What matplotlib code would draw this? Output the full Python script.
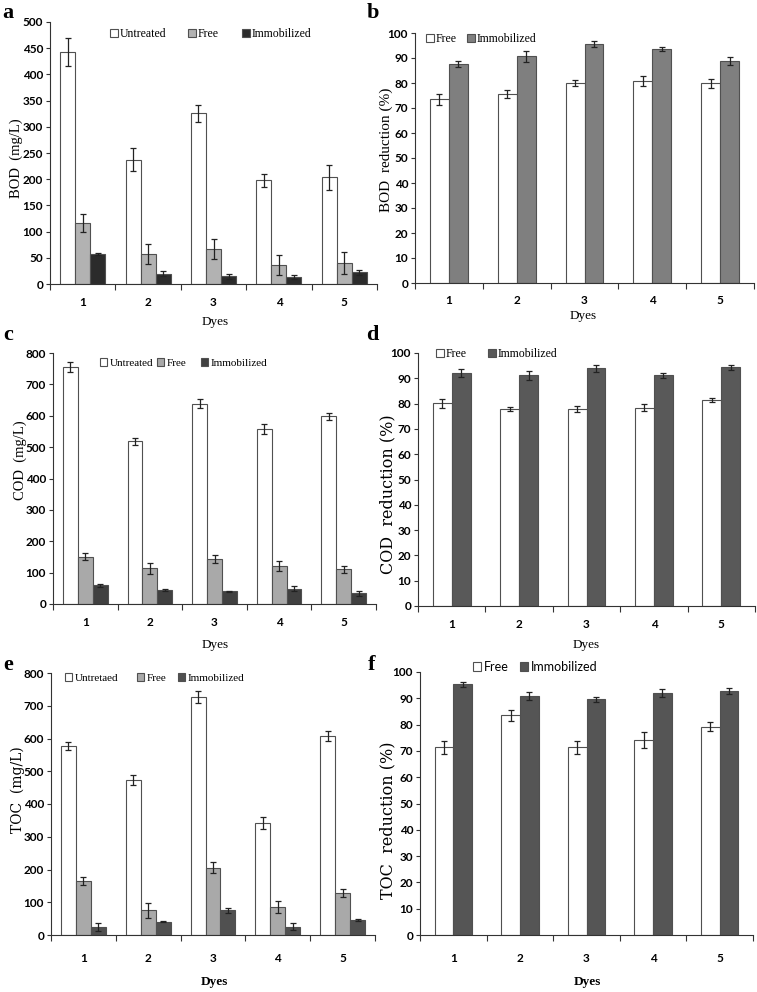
import numpy as np
import matplotlib
matplotlib.use('Agg')
import matplotlib.pyplot as plt

dyes = ['1', '2', '3', '4', '5']

# (a) BOD mg/L
bod_untreated = [443, 237, 326, 198, 204]
bod_untreated_err = [27, 22, 16, 12, 24]
bod_free = [117, 57, 66, 36, 40]
bod_free_err = [17, 19, 19, 19, 21]
bod_immob = [57, 20, 15, 13, 22]
bod_immob_err = [2, 4, 5, 4, 4]

# (b) BOD reduction %
bodr_free = [73.5, 75.7, 79.9, 81.0, 80.0]
bodr_free_err = [2.2, 1.5, 1.2, 2.0, 1.8]
bodr_immob = [87.5, 90.7, 95.6, 93.7, 88.8]
bodr_immob_err = [1.2, 2.2, 1.2, 0.8, 1.5]

# (c) COD mg/L
cod_untreated = [755, 518, 639, 558, 598]
cod_untreated_err = [15, 12, 15, 15, 12]
cod_free = [151, 114, 143, 121, 110]
cod_free_err = [12, 18, 13, 15, 12]
cod_immob = [59, 45, 40, 49, 34]
cod_immob_err = [5, 3, 2, 8, 7]

# (d) COD reduction %
codr_free = [80.1, 77.9, 77.9, 78.4, 81.3]
codr_free_err = [1.8, 0.8, 1.2, 1.5, 0.8]
codr_immob = [92.1, 91.2, 93.9, 91.2, 94.3]
codr_immob_err = [1.7, 1.8, 1.5, 1.0, 1.0]

# (e) TOC mg/L
toc_untreated = [576, 474, 727, 342, 607]
toc_untreated_err = [12, 15, 18, 18, 16]
toc_free = [166, 75, 206, 86, 128]
toc_free_err = [12, 22, 18, 18, 12]
toc_immob = [25, 41, 75, 25, 45]
toc_immob_err = [12, 2, 7, 11, 3]

# (f) TOC reduction %
tocr_free = [71.4, 83.5, 71.4, 74.1, 79.2]
tocr_free_err = [2.5, 2.0, 2.5, 3.0, 1.7]
tocr_immob = [95.3, 90.9, 89.6, 92.0, 92.8]
tocr_immob_err = [1.0, 1.5, 1.0, 1.6, 1.0]

SERIF = 'Liberation Serif'
WIDE_SERIF = 'DejaVu Serif'
SANS = 'Lato'
EDGE = '#505050'
W, H = 757.0, 992.0

fig = plt.figure(figsize=(W / 100, H / 100), dpi=100)


def px_axes(left, right, top, bottom):
    ax = fig.add_axes([left / W, 1 - bottom / H, (right - left) / W, (bottom - top) / H])
    ax._px = (left, right, top, bottom)
    return ax


def to_axes(ax, px_x, px_y):
    left, right, top, bottom = ax._px
    return (px_x - left) / (right - left), (bottom - px_y) / (bottom - top)


def style_axes(ax, ymax, ystep, ylabel, ylab_font, ylab_size, ylab_px,
               xlab_px, xlabel_bold=False, xpad=9):
    x = np.arange(1, len(dyes) + 1)
    ax.set_xlim(0.5, len(dyes) + 0.5)
    ax.set_ylim(0, ymax)
    ax.set_yticks(np.arange(0, ymax + 1, ystep))
    # category axis: ticks between groups, labels at centres
    ax.set_xticks(np.arange(0.5, len(dyes) + 1, 1.0))
    ax.set_xticklabels([])
    ax.set_xticks(x, minor=True)
    ax.set_xticklabels(dyes, minor=True, fontfamily=SANS, fontsize=8.5, fontweight='bold')
    ax.tick_params(axis='x', which='minor', length=0, pad=xpad)
    ax.tick_params(axis='x', which='major', length=4, width=0.8, color='#333333')
    ax.tick_params(axis='y', length=3, width=0.8, color='#333333', pad=2)
    for lab in ax.get_yticklabels():
        lab.set_fontfamily(SANS)
        lab.set_fontsize(8.5)
        lab.set_fontweight('bold')
    ax.spines['top'].set_visible(False)
    ax.spines['right'].set_visible(False)
    ax.spines['left'].set_color('#333333')
    ax.spines['bottom'].set_color('#333333')
    ax.set_ylabel(ylabel, fontfamily=ylab_font, fontsize=ylab_size)
    ax.yaxis.label.set_va('center')
    ax.yaxis.set_label_coords(*to_axes(ax, *ylab_px))
    ax.set_xlabel('Dyes', fontfamily=SERIF, fontsize=9.5,
                  fontweight='bold' if xlabel_bold else 'normal')
    ax.xaxis.label.set_va('center')
    ax.xaxis.set_label_coords(*to_axes(ax, *xlab_px))


def grouped_bars(ax, series, errs, colors, w):
    x = np.arange(1, len(dyes) + 1)
    n = len(series)
    bars = []
    for i, (vals, err, col) in enumerate(zip(series, errs, colors)):
        b = ax.bar(x + (i - (n - 1) / 2) * w, vals, w, color=col, edgecolor=EDGE,
                   linewidth=0.8, yerr=err, capsize=2.5,
                   error_kw=dict(elinewidth=0.9, capthick=0.9, ecolor='#222222'))
        bars.append(b)
    return bars


def place_legend(ax, bars, labels, xs_px, y_px, family=SERIF, size=8.5):
    # one small legend per entry so each sits where the original has it
    for b, lab, xp in zip(bars, labels, xs_px):
        leg = ax.legend([b], [lab], loc='center left',
                        bbox_to_anchor=(xp / W, 1 - y_px / H), bbox_transform=fig.transFigure,
                        frameon=False, handlelength=0.65, handleheight=0.65,
                        handletextpad=0.2, borderaxespad=0, borderpad=0,
                        prop=dict(family=family, size=size))
        ax.add_artist(leg)
    ax.legend_ = None


ax_a = px_axes(50, 377, 22, 284)
ax_b = px_axes(415, 754, 33, 283)
ax_c = px_axes(53, 376, 353, 604)
ax_d = px_axes(418, 755, 353, 606)
ax_e = px_axes(51, 375, 673, 935)
ax_f = px_axes(420, 753, 672, 935)

three = ['Untreated', 'Free', 'Immobilized']
two = ['Free', 'Immobilized']

# a
bars = grouped_bars(ax_a, [bod_untreated, bod_free, bod_immob],
                    [bod_untreated_err, bod_free_err, bod_immob_err],
                    ['white', '#b2b2b2', '#2b2b2b'], 0.23)
style_axes(ax_a, 500, 50, 'BOD  (mg/L)', SERIF, 10.5, (16, 158), (215, 322))
place_legend(ax_a, bars, three, [110, 188, 242], 34)

# b
bars = grouped_bars(ax_b, [bodr_free, bodr_immob], [bodr_free_err, bodr_immob_err],
                    ['white', '#7f7f7f'], 0.28)
style_axes(ax_b, 100, 10, 'BOD  reduction (%)', SERIF, 11, (386, 150), (583, 316))
place_legend(ax_b, bars, two, [426, 467], 39)

# c
bars = grouped_bars(ax_c, [cod_untreated, cod_free, cod_immob],
                    [cod_untreated_err, cod_free_err, cod_immob_err],
                    ['white', '#a9a9a9', '#404040'], 0.23)
style_axes(ax_c, 800, 100, 'COD  (mg/L)', SERIF, 10.5, (20, 460), (215, 645))
place_legend(ax_c, bars, three, [100, 157, 201], 363, size=8)

# d
bars = grouped_bars(ax_d, [codr_free, codr_immob], [codr_free_err, codr_immob_err],
                    ['white', '#595959'], 0.28)
style_axes(ax_d, 100, 10, 'COD  reduction (%)', WIDE_SERIF, 11.5, (388, 494), (586, 645))
place_legend(ax_d, bars, two, [436, 488], 354)

# e
bars = grouped_bars(ax_e, [toc_untreated, toc_free, toc_immob],
                    [toc_untreated_err, toc_free_err, toc_immob_err],
                    ['white', '#a9a9a9', '#505050'], 0.23)
style_axes(ax_e, 800, 100, 'TOC  (mg/L)', WIDE_SERIF, 10, (18, 790), (214, 982),
           xlabel_bold=True, xpad=13)
place_legend(ax_e, bars, ['Untretaed', 'Free', 'Immobilized'], [65, 137, 178], 678, size=8)

# f
bars = grouped_bars(ax_f, [tocr_free, tocr_immob], [tocr_free_err, tocr_immob_err],
                    ['white', '#555555'], 0.28)
style_axes(ax_f, 100, 10, 'TOC  reduction (%)', WIDE_SERIF, 11.5, (388, 820), (587, 982),
           xlabel_bold=True, xpad=13)
place_legend(ax_f, bars, two, [473, 520], 667, family=SANS, size=9)

# panel letters
for letter, (px, py) in zip('abcdef', [(8, 13), (373, 13), (8, 335), (372, 335), (8, 665), (372, 665)]):
    fig.text(px / W, 1 - py / H, letter, fontfamily=SERIF, fontsize=16,
             fontweight='bold', ha='center', va='center')

fig.savefig('out.png', dpi=100)
